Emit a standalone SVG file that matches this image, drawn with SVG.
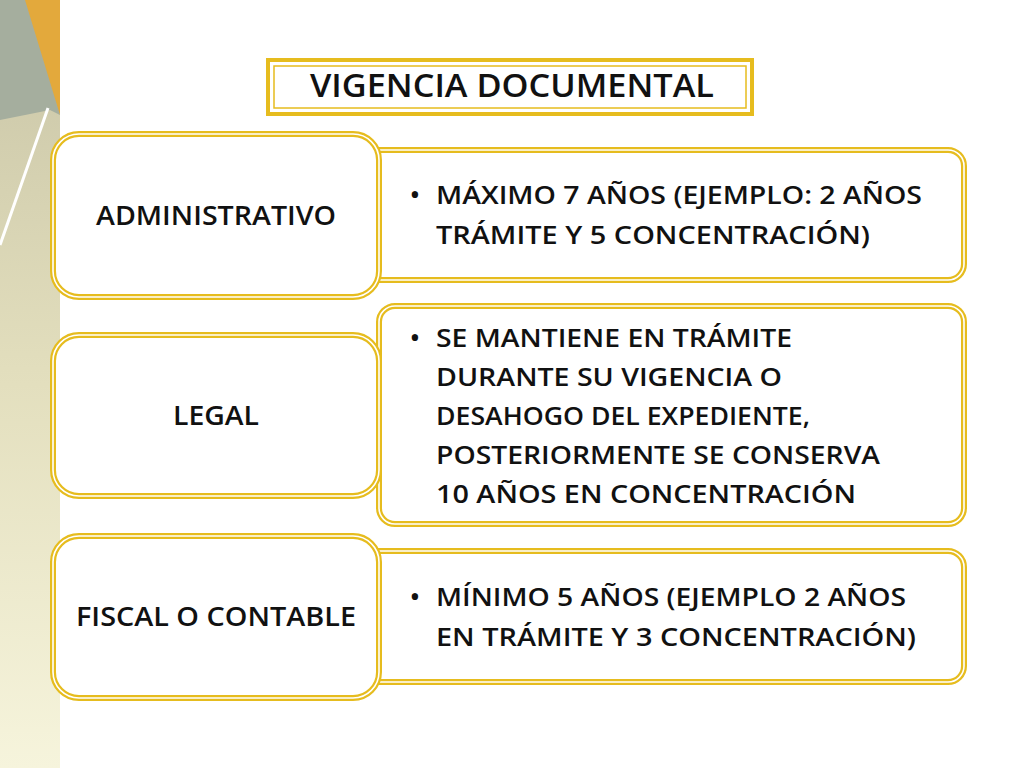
<svg xmlns="http://www.w3.org/2000/svg" width="1024" height="768" viewBox="0 0 1024 768">
<defs>
<style>
.o{fill:#fff;stroke:#E6BC1E;stroke-width:6}
.i{fill:none;stroke:#fff;stroke-width:1.6}
.t{font-family:"Open Sans","DejaVu Sans",sans-serif;font-size:26px;font-weight:600;fill:#111}
.h{font-family:"Open Sans","DejaVu Sans",sans-serif;font-size:33px;font-weight:600;fill:#111}
.l{font-family:"Open Sans","DejaVu Sans",sans-serif;font-size:27px;font-weight:600;fill:#111}
</style>
<linearGradient id="lg" x1="0" y1="0" x2="0" y2="1">
<stop offset="0" stop-color="#C9C5A6"/><stop offset="0.5" stop-color="#E3DFBE"/><stop offset="1" stop-color="#F6F4DC"/>
</linearGradient>
</defs>
<rect width="1024" height="768" fill="#fff"/>
<g id="deco">
<rect x="0" y="0" width="60" height="768" fill="url(#lg)"/>
<polygon points="0,0 60,0 60,115" fill="#E3A93C"/>
<polygon points="0,0 25,0 60,115 50,110 0,120" fill="#A5AE9E"/>
<line x1="48" y1="108" x2="0" y2="245" stroke="#fff" stroke-width="3"/>
</g>
<g id="title">
<rect x="268" y="60" width="484" height="54" fill="#fff" stroke="#E6BC1E" stroke-width="4"/>
<rect x="274" y="66" width="472" height="42" fill="none" stroke="#E6BC1E" stroke-width="1.5"/>
<text class="h" x="512" y="97" text-anchor="middle" textLength="404" lengthAdjust="spacingAndGlyphs">VIGENCIA DOCUMENTAL</text>
</g>
<g id="r1">
<rect class="o" x="340" y="150" width="624" height="130" rx="16"/>
<rect class="i" x="340" y="150" width="624" height="130" rx="16"/>
<text class="t" x="410" y="204">•</text>
<text class="t" x="436" y="204" textLength="486" lengthAdjust="spacingAndGlyphs">MÁXIMO 7 AÑOS (EJEMPLO: 2 AÑOS</text>
<text class="t" x="436" y="244" textLength="434" lengthAdjust="spacingAndGlyphs">TRÁMITE Y 5 CONCENTRACIÓN)</text>
</g>
<g id="r2">
<rect class="o" x="379" y="306" width="585" height="218" rx="16"/>
<rect class="i" x="379" y="306" width="585" height="218" rx="16"/>
<text class="t" x="410" y="347">•</text>
<text class="t" x="436" y="347" textLength="356" lengthAdjust="spacingAndGlyphs">SE MANTIENE EN TRÁMITE</text>
<text class="t" x="436" y="386" textLength="346" lengthAdjust="spacingAndGlyphs">DURANTE SU VIGENCIA O</text>
<text class="t" x="436" y="425" textLength="374" lengthAdjust="spacingAndGlyphs">DESAHOGO DEL EXPEDIENTE,</text>
<text class="t" x="436" y="464" textLength="444" lengthAdjust="spacingAndGlyphs">POSTERIORMENTE SE CONSERVA</text>
<text class="t" x="436" y="503" textLength="420" lengthAdjust="spacingAndGlyphs">10 AÑOS EN CONCENTRACIÓN</text>
</g>
<g id="r3">
<rect class="o" x="340" y="551" width="624" height="131" rx="16"/>
<rect class="i" x="340" y="551" width="624" height="131" rx="16"/>
<text class="t" x="410" y="606">•</text>
<text class="t" x="436" y="606" textLength="470" lengthAdjust="spacingAndGlyphs">MÍNIMO 5 AÑOS (EJEMPLO 2 AÑOS</text>
<text class="t" x="436" y="646" textLength="480" lengthAdjust="spacingAndGlyphs">EN TRÁMITE Y 3 CONCENTRACIÓN)</text>
</g>
<g id="l1">
<rect class="o" x="53" y="134" width="326" height="163" rx="26"/>
<rect class="i" x="53" y="134" width="326" height="163" rx="26"/>
<text class="l" x="216" y="225" text-anchor="middle" textLength="240" lengthAdjust="spacingAndGlyphs">ADMINISTRATIVO</text>
</g>
<g id="l2">
<rect class="o" x="53" y="335" width="326" height="161" rx="26"/>
<rect class="i" x="53" y="335" width="326" height="161" rx="26"/>
<text class="l" x="216" y="425" text-anchor="middle" textLength="86" lengthAdjust="spacingAndGlyphs">LEGAL</text>
</g>
<g id="l3">
<rect class="o" x="53" y="536" width="326" height="162" rx="26"/>
<rect class="i" x="53" y="536" width="326" height="162" rx="26"/>
<text class="l" x="216" y="626" text-anchor="middle" textLength="280" lengthAdjust="spacingAndGlyphs">FISCAL O CONTABLE</text>
</g>
<g id="connectors"/>
</svg>
